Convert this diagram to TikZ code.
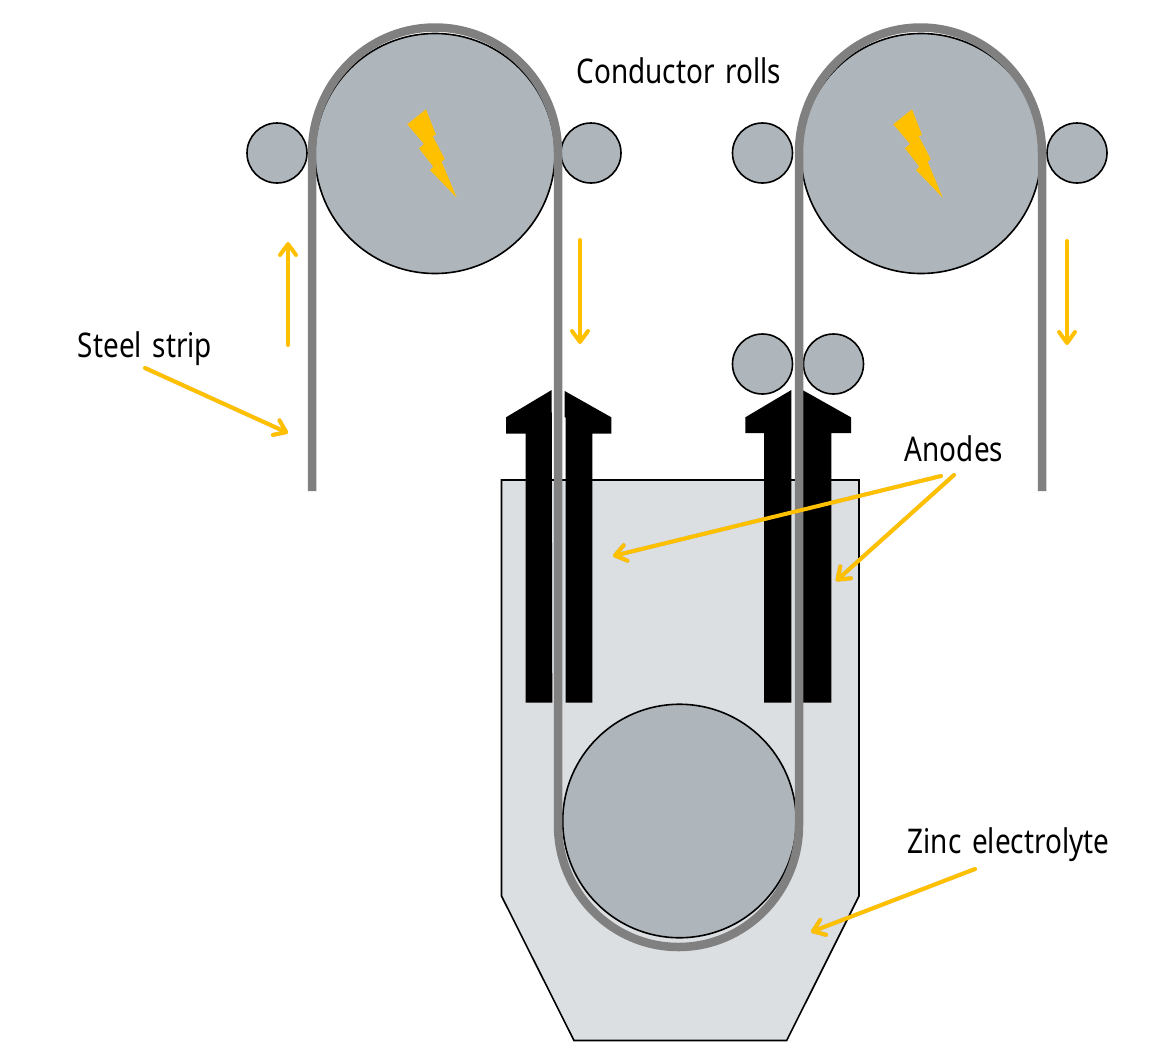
\documentclass[tikz,border=0pt]{standalone}
\usepackage{fontspec}
\setmainfont[FakeStretch=0.82,WordSpace=1.5]{Noto Sans}
\usetikzlibrary{arrows.meta}
\definecolor{rollgrey}{HTML}{AFB6BB}
\definecolor{stripgrey}{HTML}{808080}
\definecolor{tankgrey}{HTML}{DCDFE2}
\definecolor{amber}{HTML}{FFC000}
\tikzset{
  roll/.style={draw=black,line width=1.6pt,fill=rollgrey},
  strip/.style={draw=stripgrey,line width=8.5pt},
  anode/.style={fill=black,draw=none},
  bolt/.style={fill=amber,draw=none},
  flow/.style={draw=amber,line width=4pt,line cap=round,line join=round,-{Straight Barb[length=11pt,width=16pt,line width=4pt,round]}},
  flowshade/.style={flow,draw=black,opacity=0.2,shift={(1.5pt,-2.5pt)}},
  lbl/.style={font=\fontsize{34}{34}\selectfont,text=black,inner sep=0pt,anchor=center}
}
\begin{document}
\begin{tikzpicture}[x=1pt,y=-1pt]
\useasboundingbox[fill=white] (0,0) rectangle (1170,1061);
% tank
\fill[tankgrey] (501.5,480) -- (859,480) -- (859,896) -- (786.7,1040.5) -- (574,1040.5) -- (501.5,896) -- cycle;
\draw[black,line width=1.6pt,line join=miter] (501.5,480) -- (859,480) -- (859,896) -- (786.7,1040.5) -- (574,1040.5) -- (501.5,896) -- cycle;
% anodes
\fill[anode] (551.7,390) -- (506,417.3) -- (506,433.7) -- (525.7,433.7) -- (525.7,702.7) -- (552.3,702.7) -- cycle;
\fill[anode] (564.7,391) -- (611.3,417.3) -- (611.3,433.7) -- (592.3,433.7) -- (592.3,702.7) -- (565.7,702.7) -- (565.7,417.3) -- (564.7,417.3) -- cycle;
\fill[anode] (791.3,390) -- (745.3,417.3) -- (745.3,433) -- (764,433) -- (764,702.7) -- (791.3,702.7) -- cycle;
\fill[anode] (802.5,390) -- (851,417.3) -- (851,433) -- (831.3,433) -- (831.3,702.7) -- (802.5,702.7) -- cycle;
% rolls
\node[roll,circle,minimum size=240pt,inner sep=0pt] (rollA) at (435,153.5) {};
\node[roll,circle,minimum size=240pt,inner sep=0pt] (rollB) at (921,153.5) {};
\node[roll,circle,minimum size=233.5pt,inner sep=0pt] (rollC) at (679.5,821) {};
\node[roll,circle,minimum size=60pt,inner sep=0pt] (smallA) at (277,153) {};
\node[roll,circle,minimum size=60pt,inner sep=0pt] (smallB) at (591,153) {};
\node[roll,circle,minimum size=60pt,inner sep=0pt] (smallC) at (762.5,153) {};
\node[roll,circle,minimum size=60pt,inner sep=0pt] (smallD) at (1077,153) {};
\node[roll,circle,minimum size=60pt,inner sep=0pt] (smallE) at (762.5,364) {};
\node[roll,circle,minimum size=60pt,inner sep=0pt] (smallF) at (833.5,364) {};
% strip
\draw[strip] (312,491) -- (312,153) arc[start angle=180,end angle=360,x radius=123,y radius=125.5] -- (558,825)
  arc[start angle=180,end angle=0,x radius=120.5,y radius=122] -- (799,153)
  arc[start angle=180,end angle=360,x radius=121.5,y radius=125.5] -- (1042,491);
% bolts
\foreach \dx in {0,486}{
  \fill[bolt,xshift=\dx pt] (426,109.3) -- (407.3,124.3) -- (424,144) -- (419,148.3) -- (433.3,166.7) -- (430,170) -- (456.7,197.7) -- (441.7,161.7) -- (444.7,159) -- (432.7,136) -- (436,135) -- cycle;
}
% labels
\node[lbl] (lblRolls) at (679,71) {Conductor rolls};
\node[lbl] (lblSteel) at (145,349) {Steel strip};
\node[lbl] (lblAnodes) at (954,449) {Anodes};
\node[lbl] (lblZinc) at (1008.5,845) {Zinc electrolyte};
% flow arrows
\coordinate (upS) at (288,345); \coordinate (upE) at (288,242);
\coordinate (dnAS) at (580,240); \coordinate (dnAE) at (580,344);
\coordinate (dnBS) at (1067,241); \coordinate (dnBE) at (1067,345);
\coordinate (steelS) at (145,368); \coordinate (steelE) at (288,433);
\coordinate (anS) at (941,476); \coordinate (anE) at (613,556);
\coordinate (anT) at (954,475); \coordinate (anF) at (836,581);
\coordinate (znS) at (975,869); \coordinate (znE) at (811,932);
\draw[flowshade] (steelS) -- (steelE);
\draw[flowshade] (anS) -- (anE);
\draw[flowshade] (anT) -- (anF);
\draw[flowshade] (znS) -- (znE);
\draw[flow] (upS) -- (upE);
\draw[flow] (dnAS) -- (dnAE);
\draw[flow] (dnBS) -- (dnBE);
\draw[flow] (steelS) -- (steelE);
\draw[flow] (anS) -- (anE);
\draw[flow] (anT) -- (anF);
\draw[flow] (znS) -- (znE);
\end{tikzpicture}
\end{document}
